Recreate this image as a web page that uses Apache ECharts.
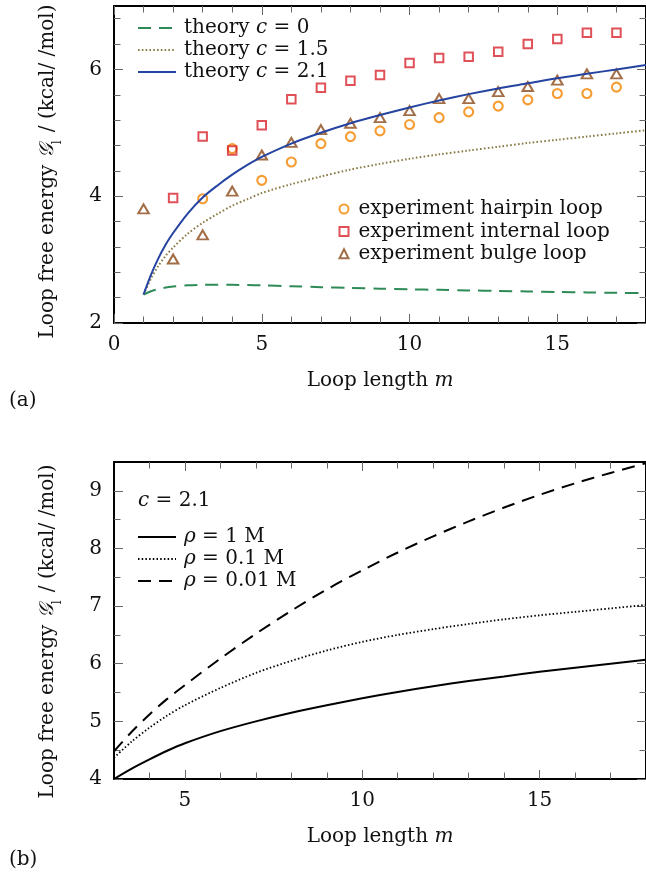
<!DOCTYPE html>
<html>
<head>
<meta charset="utf-8">
<script src="https://cdn.jsdelivr.net/npm/echarts@6/dist/echarts.min.js"></script>
<style>
  html, body { margin: 0; padding: 0; background: #fff; }
  #chart { width: 646px; height: 875px; }
</style>
</head>
<body>
<div id="chart"></div>
<script>
// Panel (a): theory curves sampled along the loop length m
const mTheory   = [1, 1.25, 1.5, 1.75, 2, 2.5, 3, 3.5, 4, 4.5, 5, 6, 7, 8, 9, 10, 11, 12, 13, 14, 15, 16, 17, 18, 18.5];
const theoryC0  = [2.45, 2.50, 2.535, 2.56, 2.575, 2.595, 2.603, 2.605, 2.603, 2.598, 2.593, 2.58, 2.565, 2.553, 2.542, 2.532, 2.523, 2.514, 2.505, 2.497, 2.49, 2.483, 2.476, 2.47, 2.467];
const theoryC15 = [2.45, 2.70, 2.90, 3.06, 3.19, 3.41, 3.58, 3.72, 3.85, 3.95, 4.05, 4.19, 4.31, 4.42, 4.51, 4.59, 4.66, 4.72, 4.78, 4.84, 4.89, 4.94, 4.99, 5.04, 5.06];
const theoryC21 = [2.45, 2.76, 3.02, 3.24, 3.42, 3.73, 3.98, 4.17, 4.34, 4.49, 4.62, 4.83, 5.00, 5.15, 5.28, 5.40, 5.51, 5.61, 5.70, 5.78, 5.86, 5.93, 6.00, 6.07, 6.10];

// Panel (a): measured loop free energies
const mHairpin  = [3, 4, 5, 6, 7, 8, 9, 10, 11, 12, 13, 14, 15, 16, 17];
const hairpin   = [3.96, 4.75, 4.25, 4.54, 4.83, 4.94, 5.03, 5.13, 5.24, 5.33, 5.42, 5.52, 5.62, 5.62, 5.72];
const mInternal = [2, 3, 4, 5, 6, 7, 8, 9, 10, 11, 12, 13, 14, 15, 16, 17];
const internal  = [3.97, 4.94, 4.72, 5.12, 5.53, 5.71, 5.82, 5.91, 6.10, 6.18, 6.20, 6.28, 6.40, 6.48, 6.58, 6.58];
const mBulge    = [1, 2, 3, 4, 5, 6, 7, 8, 9, 10, 11, 12, 13, 14, 15, 16, 17];
const bulge     = [3.80, 3.01, 3.39, 4.08, 4.65, 4.85, 5.05, 5.15, 5.24, 5.35, 5.54, 5.54, 5.65, 5.73, 5.83, 5.93, 5.93];

// Panel (b): c = 2.1 at three salt concentrations
const mSalt  = [3, 3.5, 4, 4.5, 5, 6, 7, 8, 9, 10, 11, 12, 13, 14, 15, 16, 17, 18, 18.5];
const rho1   = [4.00, 4.18, 4.34, 4.49, 4.62, 4.83, 5.00, 5.15, 5.28, 5.40, 5.51, 5.61, 5.70, 5.78, 5.86, 5.93, 6.00, 6.07, 6.10];
const rho01  = [4.37, 4.65, 4.89, 5.10, 5.28, 5.58, 5.84, 6.05, 6.23, 6.38, 6.50, 6.60, 6.69, 6.77, 6.84, 6.90, 6.96, 7.02, 7.05];
const rho001 = [4.48, 4.82, 5.12, 5.39, 5.63, 6.09, 6.52, 6.92, 7.29, 7.62, 7.93, 8.21, 8.47, 8.71, 8.93, 9.13, 9.31, 9.48, 9.56];

// Tick values
const xMajorA = [0, 5, 10, 15];
const xMinorA = [1, 2, 3, 4, 6, 7, 8, 9, 11, 12, 13, 14, 16, 17];
const yMajorA = [2, 4, 6];
const yMinorA = [2.4, 2.8, 3.2, 3.6, 4.4, 4.8, 5.2, 5.6, 6.4, 6.8];
const xMajorB = [5, 10, 15];
const xMinorB = [4, 6, 7, 8, 9, 11, 12, 13, 14, 16, 17];
const yMajorB = [4, 5, 6, 7, 8, 9];
const yMinorB = [4.5, 5.5, 6.5, 7.5, 8.5, 9];

const FONT = 'DejaVu Serif';
const INK = '#111';
const TICK = '#666';

const rich = {
  n: { fontFamily: FONT, fontSize: 20, color: INK, lineHeight: 20, fontWeight: 'normal' },
  i: { fontFamily: FONT, fontSize: 20, color: INK, lineHeight: 20, fontWeight: 'normal', fontStyle: 'italic' },
  g: { fontFamily: FONT, fontSize: 20, color: INK, lineHeight: 20, fontWeight: 'normal', fontStyle: 'italic' },
  s: { fontFamily: FONT, fontSize: 12, color: INK, lineHeight: 20, fontWeight: 'normal', verticalAlign: 'bottom', padding: [0, 2, -6, 0] }
};

const zip = (xs, ys) => xs.map((x, k) => [x, ys[k]]);

// Four framed sides per panel: a major-tick axis (with line) and a minor-tick axis on each side
function frameAxes(dim, grid, min, max, major, minor, name, nameGap, namePad) {
  const sides = dim === 'x' ? ['bottom', 'top'] : ['left', 'right'];
  const out = [];
  sides.forEach((pos, k) => {
    const main = {
      type: 'value', gridIndex: grid, position: pos, min: min, max: max,
      axisLine: { show: true, onZero: false, lineStyle: { color: '#000', width: 2 } },
      axisTick: { show: true, inside: true, length: 9, customValues: major, lineStyle: { color: TICK, width: 1 } },
      axisLabel: { show: k === 0, customValues: major, margin: 12, fontFamily: FONT, fontSize: 20, color: INK },
      splitLine: { show: false }
    };
    if (k === 0 && name) {
      main.name = name;
      main.nameLocation = 'middle';
      main.nameGap = nameGap;
      main.nameTextStyle = { rich: rich, padding: namePad };
      if (dim === 'y') main.nameRotate = 90;
    }
    out.push(main);
    out.push({
      type: 'value', gridIndex: grid, position: pos, min: min, max: max,
      axisLine: { show: false, onZero: false },
      axisTick: { show: true, inside: true, length: 6.5, customValues: minor, lineStyle: { color: TICK, width: 1 } },
      axisLabel: { show: false },
      splitLine: { show: false }
    });
  });
  return out;
}

const xName = '{n|Loop length }{i|m}';
const yName = '{n|Loop free energy }{g|𝒢}{s|l}{n| / (kcal/ /mol)}';

const legendLabel = name => {
  if (name.startsWith('theory')) return '{n|theory }{i|c}{n|' + name.slice(8) + '}';
  if (name.startsWith('ρ')) return '{i|ρ}{n|' + name.slice(1) + '}';
  return '{n|' + name + '}';
};

const C_GREEN = '#2e8b57', C_OLIVE = '#8a7a45', C_BLUE = '#2543a0';
const C_ORANGE = '#f28500', C_RED = '#d7262d', C_BROWN = '#8b4a1a';

// line-only legend entries: hide the marker drawn in the middle of the icon
const lineLegend = (names, left, top) => ({
  data: names, orient: 'vertical', left: left, top: top, padding: 0,
  itemWidth: 38, itemHeight: 12, itemGap: 2,
  itemStyle: { opacity: 0 },
  formatter: legendLabel, textStyle: { rich: rich, padding: [0, 0, 0, 3] }
});

const curve = { type: 'line', symbol: 'none', smooth: 0.3 };
const marker = { type: 'scatter', xAxisIndex: 0, yAxisIndex: 0 };

const option = {
  animation: false,
  backgroundColor: '#fff',
  grid: [
    { left: 114, top: 6, width: 537, height: 317 },
    { left: 114, top: 462, width: 536, height: 317 }
  ],
  xAxis: [
    ...frameAxes('x', 0, 0, 18, xMajorA, xMinorA, xName, 48, 0),
    ...frameAxes('x', 1, 3, 18, xMajorB, xMinorB, xName, 48, 0)
  ],
  yAxis: [
    ...frameAxes('y', 0, 2, 7, yMajorA, yMinorA, yName, 56, [0, 14, 0, 0]),
    ...frameAxes('y', 1, 4, 9.5, yMajorB, yMinorB, yName, 56, [0, 22, 0, 0])
  ],
  title: [
    { text: '(a)', left: 9, top: 391, padding: 0, textStyle: { fontFamily: FONT, fontSize: 20, fontWeight: 'normal', color: INK, lineHeight: 20 } },
    { text: '(b)', left: 9, top: 850, padding: 0, textStyle: { fontFamily: FONT, fontSize: 20, fontWeight: 'normal', color: INK, lineHeight: 20 } },
    { text: '{i|c}{n| = 2.1}', left: 138, top: 491, padding: 0, textStyle: { fontWeight: 'normal', rich: rich } }
  ],
  legend: [
    lineLegend(['theory c = 0', 'theory c = 1.5', 'theory c = 2.1'], 137, 18),
    {
      data: ['experiment hairpin loop', 'experiment internal loop', 'experiment bulge loop'],
      orient: 'vertical', left: 337, top: 199, padding: 0,
      itemWidth: 9, itemHeight: 9, itemGap: 2.4,
      formatter: legendLabel, textStyle: { rich: rich, padding: [0, 0, 0, 5] }
    },
    lineLegend(['ρ = 1 M', 'ρ = 0.1 M', 'ρ = 0.01 M'], 137, 527)
  ],
  series: [
    { ...curve, name: 'theory c = 0', xAxisIndex: 0, yAxisIndex: 0, data: zip(mTheory, theoryC0),
      lineStyle: { color: C_GREEN, width: 2, type: [13, 8] }, itemStyle: { color: C_GREEN, opacity: 0 } },
    { ...curve, name: 'theory c = 1.5', xAxisIndex: 0, yAxisIndex: 0, data: zip(mTheory, theoryC15),
      lineStyle: { color: C_OLIVE, width: 2, type: [1.6, 2.2] }, itemStyle: { color: C_OLIVE, opacity: 0 } },
    { ...curve, name: 'theory c = 2.1', xAxisIndex: 0, yAxisIndex: 0, data: zip(mTheory, theoryC21),
      lineStyle: { color: C_BLUE, width: 2 }, itemStyle: { color: C_BLUE, opacity: 0 } },
    { ...marker, name: 'experiment hairpin loop', data: zip(mHairpin, hairpin),
      symbol: 'circle', symbolSize: 9, itemStyle: { color: 'none', borderColor: C_ORANGE, borderWidth: 2.1 } },
    { ...marker, name: 'experiment internal loop', data: zip(mInternal, internal),
      symbol: 'rect', symbolSize: 8.5, itemStyle: { color: 'none', borderColor: C_RED, borderWidth: 2 } },
    { ...marker, name: 'experiment bulge loop', data: zip(mBulge, bulge),
      symbol: 'triangle', symbolSize: [10.5, 9], itemStyle: { color: 'none', borderColor: C_BROWN, borderWidth: 2 } },
    { ...curve, name: 'ρ = 1 M', xAxisIndex: 4, yAxisIndex: 4, data: zip(mSalt, rho1),
      lineStyle: { color: '#000', width: 2 }, itemStyle: { color: '#000', opacity: 0 } },
    { ...curve, name: 'ρ = 0.1 M', xAxisIndex: 4, yAxisIndex: 4, data: zip(mSalt, rho01),
      lineStyle: { color: '#000', width: 1.8, type: [1.5, 2.2] }, itemStyle: { color: '#000', opacity: 0 } },
    { ...curve, name: 'ρ = 0.01 M', xAxisIndex: 4, yAxisIndex: 4, data: zip(mSalt, rho001),
      lineStyle: { color: '#000', width: 2, type: [13, 8] }, itemStyle: { color: '#000', opacity: 0 } }
  ]
};

const chart = echarts.init(document.getElementById('chart'), null, { renderer: 'canvas' });
chart.setOption(option);
</script>
</body>
</html>
